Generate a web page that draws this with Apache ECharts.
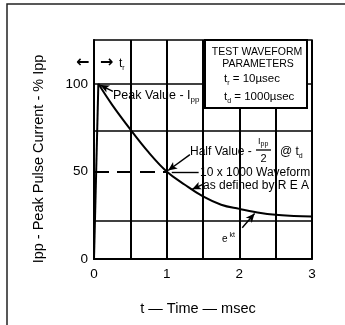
<!DOCTYPE html>
<html><head><meta charset="utf-8">
<script src="https://cdn.jsdelivr.net/npm/echarts@6/dist/echarts.min.js"></script>
<style>html,body{margin:0;padding:0;background:#fff}#c{width:345px;height:325px}</style>
</head><body><div id="c"></div>
<script>
// ---- data ----
const riseTimes = [0, 0.06];
const riseValues = [0, 100];
const curveTimes = [0.06, 0.25, 0.5, 0.75, 1.0, 1.25, 1.5, 1.75, 2.0, 2.25, 2.5, 2.75, 3.0];
const curveValues = [100, 88, 74, 61, 50, 42.4, 35.7, 31, 28.6, 26.6, 25.2, 24.6, 24.3];
const hGridValues = [22, 73, 100];
const halfValueTimes = [0, 1];
const halfValue = 50;
const xTickLabels = ['0', '1', '2', '3'];
const yTickLabels = ['0', '50', '100'];
// annotation leader lines in data coordinates [from, to]
const peakArrow = [[0.26, 95.7], [0.085, 99.3]];
const halfArrow = [[1.32, 59.6], [1.02, 50.5]];
const waveformLeader = [[1.07, 49.3], [1.44, 49.3]];
const reaArrow = [[1.49, 42.4], [1.35, 39.8]];
const ektArrow = [[2.04, 17.8], [2.21, 26.0]];

const FF = "'Liberation Sans', Arial, sans-serif";
const chart = echarts.init(document.getElementById('c'), null, {renderer: 'canvas'});

function pair(a, withArrow) {
  return [
    {coord: a[0], symbol: 'none'},
    {coord: a[1], symbol: withArrow ? 'arrow' : 'none', symbolSize: withArrow ? [6, 9] : 0}
  ];
}
function txt(x, y, text, size, align, extra) {
  return Object.assign({type: 'text', x: x, y: y, z: 120,
    style: {text: text, fontSize: size, fontFamily: FF, fill: '#000', align: align || 'left', verticalAlign: 'middle'}}, extra || {});
}
function richTxt(x, y, parts, align) {
  const r = {type: 'text', x: x, y: y, z: 120, style: {fill: '#000', align: align || 'left', verticalAlign: 'middle', fontFamily: FF}};
  let text = '', rich = {};
  parts.forEach((p, i) => {
    const k = 'k' + i;
    text += '{' + k + '|' + p[0] + '}';
    rich[k] = {fontSize: p[1], fontFamily: FF, fill: '#000', lineHeight: p[2] || 16, verticalAlign: p[3] || 'middle'};
  });
  r.style.text = text; r.style.rich = rich;
  return r;
}

const option = {
  animation: false,
  backgroundColor: '#fff',
  grid: {left: 94, right: 33, top: 40, bottom: 66, show: true, borderColor: '#000', borderWidth: 1.5, backgroundColor: 'transparent'},
  xAxis: {
    type: 'value', min: 0, max: 3, interval: 0.5,
    axisLine: {lineStyle: {color: '#000', width: 2}},
    axisTick: {show: false},
    axisLabel: {color: '#000', fontSize: 13.5, fontFamily: FF, margin: 8,
      formatter: v => xTickLabels.includes(String(v)) ? String(v) : ''},
    splitLine: {show: true, lineStyle: {color: '#000', width: 2}}
  },
  yAxis: {
    type: 'value', min: 0, max: 125, interval: 25,
    axisLine: {show: true, lineStyle: {color: '#000', width: 2}},
    axisTick: {show: false},
    axisLabel: {color: '#000', fontSize: 13.5, fontFamily: FF, margin: 6,
      formatter: v => yTickLabels.includes(String(v)) ? String(v) : ''},
    splitLine: {show: false}
  },
  series: [
    {
      type: 'line', data: riseTimes.map((t, i) => [t, riseValues[i]]),
      symbol: 'none', lineStyle: {color: '#000', width: 2}, z: 5,
      markLine: {
        silent: true, symbol: 'none', label: {show: false},
        lineStyle: {color: '#000', width: 1.6, type: 'solid'},
        data: hGridValues.map(v => ({yAxis: v})).concat([
          [{coord: [halfValueTimes[0], halfValue], lineStyle: {type: [15, 8], width: 2, color: '#000'}},
           {coord: [halfValueTimes[1], halfValue]}]
        ])
      }
    },
    {
      type: 'line', data: curveTimes.map((t, i) => [t, curveValues[i]]),
      symbol: 'none', smooth: 0.4, lineStyle: {color: '#000', width: 2}, z: 6,
      markLine: {
        silent: true, label: {show: false},
        lineStyle: {color: '#000', width: 1.4, type: 'solid'},
        data: [pair(peakArrow, true), pair(halfArrow, true), pair(waveformLeader, false), pair(reaArrow, true), pair(ektArrow, true)]
      }
    }
  ],
  graphic: [
    {type: 'polyline', z: 100, shape: {points: [[7, 325], [7, 4], [345, 4]]}, style: {stroke: '#222', lineWidth: 1.5, fill: null}},
    {type: 'rect', z: 110, shape: {x: 205, y: 40, width: 102, height: 68}, style: {fill: '#fff', stroke: '#000', lineWidth: 2}},
    txt(257, 52, 'TEST WAVEFORM', 10.5, 'center'),
    txt(258, 64, 'PARAMETERS', 10.5, 'center'),
    richTxt(224, 79, [['t', 11.5, 16], ['r', 7, 7, 'bottom'], [' = 10µsec', 11.5, 16]]),
    richTxt(224, 97, [['t', 11.5, 16], ['d', 7, 7, 'bottom'], [' = 1000µsec', 11.5, 16]]),
    // tr marker
    txt(76, 63, '←', 16, 'left', {style: {text: '←', fontSize: 16, fontWeight: 'bold', fontFamily: "'DejaVu Sans', sans-serif", fill: '#000', align: 'left', verticalAlign: 'middle'}}),
    txt(100, 63, '→', 16, 'left', {style: {text: '→', fontSize: 16, fontWeight: 'bold', fontFamily: "'DejaVu Sans', sans-serif", fill: '#000', align: 'left', verticalAlign: 'middle'}}),
    richTxt(119, 64, [['t', 12, 16], ['r', 7, 7, 'bottom']]),
    // peak value
    richTxt(113, 96, [['Peak Value - I', 12.5, 16], ['pp', 8, 8, 'bottom']]),
    // half value
    txt(190, 152, 'Half Value -', 12),
    richTxt(258, 142, [['I', 9, 12], ['pp', 7, 7, 'bottom']]),
    {type: 'line', z: 120, shape: {x1: 256, y1: 150, x2: 271, y2: 150}, style: {stroke: '#000', lineWidth: 1.3}},
    txt(263.5, 159, '2', 11, 'center'),
    richTxt(280, 152, [['@ t', 12, 16], ['d', 7, 7, 'bottom']]),
    txt(200, 173, '10 x 1000 Waveform', 12),
    txt(203, 186, 'as defined by R E A', 12),
    richTxt(222, 239, [['e', 10, 14], [' kt', 7, 7, 'top']]),
    // axis titles
    txt(39, 159, 'Ipp - Peak Pulse Current - % Ipp', 14.5, 'center', {rotation: Math.PI / 2}),
    txt(198, 309, 't — Time — msec', 14.5, 'center')
  ]
};
chart.setOption(option);
</script>
</body></html>
